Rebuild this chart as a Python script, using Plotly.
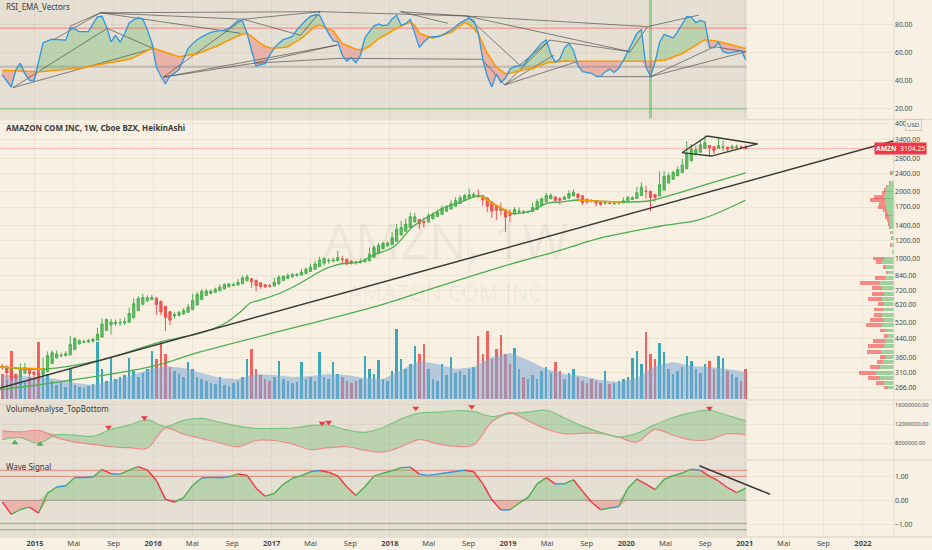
import numpy as np
import pandas as pd
import plotly.graph_objects as go

# -- AMZN weekly HeikinAshi, every second week --
dates = pd.date_range(end="2021-01-04", periods=165, freq="14D")

ha_open = [330, 328, 318, 304, 299, 308, 316, 311, 308, 304,
           313, 340, 360, 368, 369, 372, 393, 416, 423, 424,
           427, 432, 446, 478, 506, 513, 516, 517, 520, 544,
           586, 625, 648, 658, 664, 644, 611, 579, 555, 558,
           566, 576, 592, 621, 656, 685, 700, 708, 719, 732,
           748, 759, 762, 772, 796, 812, 800, 779, 764, 756,
           755, 770, 798, 816, 828, 838, 844, 857, 876, 896,
           921, 953, 976, 977, 980, 995, 994, 975, 966, 963,
           968, 977, 1012, 1066, 1106, 1138, 1156, 1196, 1275, 1326,
           1376, 1458, 1497, 1465, 1457, 1506, 1542, 1575, 1626, 1666,
           1711, 1763, 1816, 1864, 1896, 1915, 1908, 1867, 1790, 1710,
           1676, 1658, 1596, 1578, 1616, 1622, 1615, 1620, 1656, 1728,
           1789, 1851, 1884, 1853, 1838, 1860, 1906, 1942, 1908, 1843,
           1817, 1816, 1792, 1770, 1772, 1768, 1769, 1774, 1794, 1835,
           1854, 1912, 2000, 1999, 1936, 1906, 2023, 2176, 2262, 2344,
           2419, 2518, 2732, 2906, 2985, 3106, 3198, 3161, 3100, 3149,
           3152, 3117, 3140, 3148, 3146]
ha_close = [326, 309, 291, 294, 318, 325, 306, 304, 300, 322,
            368, 380, 375, 370, 376, 414, 439, 430, 426, 430,
            436, 460, 510, 534, 520, 520, 517, 522, 569, 629,
            664, 670, 668, 670, 623, 578, 547, 531, 562, 574,
            587, 608, 650, 691, 714, 716, 716, 730, 746, 765,
            770, 765, 783, 820, 829, 788, 758, 750, 749, 754,
            784, 826, 834, 840, 849, 849, 870, 896, 916, 946,
            985, 999, 978, 984, 1010, 994, 956, 956, 960, 972,
            986, 1046, 1120, 1146, 1170, 1174, 1237, 1354, 1376, 1425,
            1539, 1536, 1433, 1449, 1554, 1578, 1608, 1678, 1707, 1756,
            1815, 1868, 1912, 1928, 1934, 1902, 1826, 1714, 1629, 1642,
            1640, 1534, 1559, 1655, 1629, 1608, 1624, 1692, 1800, 1850,
            1913, 1916, 1822, 1822, 1882, 1952, 1977, 1875, 1778, 1791,
            1814, 1767, 1748, 1774, 1765, 1770, 1780, 1814, 1876, 1872,
            1970, 2087, 1998, 1874, 1876, 2140, 2330, 2348, 2426, 2494,
            2618, 2946, 3080, 3064, 3226, 3289, 3124, 3040, 3198, 3154,
            3082, 3162, 3156, 3144, 3104.25]
ha_high = [338, 334, 322, 306, 340, 342, 320, 316, 312, 362,
           385, 390, 388, 380, 386, 452, 446, 436, 434, 438,
           442, 490, 540, 540, 538, 535, 540, 545, 605, 664,
           680, 696, 685, 690, 675, 650, 615, 582, 575, 585,
           600, 628, 696, 710, 732, 731, 728, 742, 766, 776,
           780, 782, 810, 840, 848, 818, 804, 782, 770, 772,
           822, 842, 842, 860, 860, 862, 900, 910, 950, 975,
           1018, 1016, 1005, 1010, 1084, 1030, 998, 980, 980, 1000,
           1005, 1122, 1145, 1175, 1185, 1195, 1310, 1430, 1475, 1510,
           1605, 1600, 1505, 1530, 1600, 1610, 1650, 1725, 1730, 1830,
           1880, 1925, 1940, 2050, 1980, 2030, 1915, 1872, 1795, 1720,
           1780, 1665, 1660, 1700, 1690, 1640, 1640, 1780, 1845, 1875,
           1970, 1960, 1890, 1880, 1910, 2020, 2035, 1950, 1912, 1850,
           1840, 1822, 1797, 1800, 1790, 1805, 1810, 1880, 1905, 1900,
           2090, 2185, 2110, 2005, 1945, 2450, 2460, 2420, 2470, 2580,
           2790, 3345, 3250, 3200, 3380, 3550, 3205, 3170, 3500, 3370,
           3160, 3230, 3230, 3200, 3230]
ha_low = [318, 292, 285, 287, 296, 304, 297, 295, 285, 300,
          310, 338, 357, 362, 365, 368, 390, 414, 418, 420,
          422, 428, 444, 476, 458, 500, 500, 505, 516, 540,
          582, 620, 640, 652, 560, 560, 474, 505, 540, 550,
          560, 572, 588, 618, 652, 680, 692, 704, 715, 728,
          744, 752, 758, 768, 790, 740, 715, 735, 738, 742,
          750, 766, 795, 812, 824, 834, 840, 853, 872, 892,
          917, 930, 950, 960, 976, 955, 932, 940, 940, 950,
          962, 973, 1008, 1060, 1100, 1134, 1152, 1192, 1265, 1320,
          1370, 1450, 1352, 1380, 1450, 1500, 1536, 1570, 1620, 1660,
          1705, 1757, 1810, 1858, 1890, 1860, 1720, 1610, 1520, 1490,
          1560, 1310, 1450, 1572, 1580, 1580, 1590, 1615, 1650, 1722,
          1783, 1840, 1770, 1740, 1830, 1855, 1900, 1800, 1740, 1750,
          1780, 1710, 1720, 1740, 1745, 1735, 1740, 1770, 1790, 1825,
          1848, 1905, 1850, 1626, 1800, 1900, 2018, 2170, 2255, 2338,
          2412, 2510, 2725, 2900, 2978, 3100, 2870, 2930, 3092, 3020,
          3000, 3060, 3090, 3080, 3070]

# volume, millions of shares
volume = [25, 20, 48, 22, 28, 18, 22, 20, 57, 30,
          25, 18, 14, 16, 12, 30, 14, 12, 11, 13,
          15, 57, 30, 18, 42, 20, 22, 24, 41, 28,
          22, 26, 30, 48, 40, 57, 45, 32, 28, 25,
          22, 37, 30, 22, 20, 18, 16, 15, 22, 14,
          13, 16, 18, 22, 40, 50, 30, 24, 20, 18,
          22, 38, 20, 18, 16, 17, 37, 20, 22, 18,
          47, 22, 20, 37, 25, 22, 18, 16, 18, 20,
          43, 30, 25, 39, 20, 18, 28, 70, 40, 30,
          35, 53, 45, 55, 30, 20, 18, 35, 24, 42,
          26, 28, 24, 30, 32, 63, 45, 68, 40, 50,
          64, 45, 35, 51, 30, 22, 20, 24, 20, 28,
          32, 26, 37, 28, 20, 26, 30, 22, 18, 16,
          20, 18, 16, 28, 15, 16, 18, 20, 22, 41,
          48, 35, 67, 45, 40, 56, 47, 30, 25, 28,
          32, 43, 38, 30, 26, 35, 38, 30, 43, 41,
          28, 25, 22, 18, 30]

rsi = [44.1, 40, 35.5, 48, 52.5, 44.9, 40.4, 39.6, 52.5, 67.1,
       68.4, 69.6, 69.4, 69.2, 69, 78.2, 77, 75, 75, 75,
       80.6, 85.6, 86, 78.6, 67.8, 72.4, 67.5, 73.7, 81.2, 83.5,
       85, 84, 76.5, 67, 49.8, 43, 38, 43.4, 45.5, 48,
       55.5, 63, 66.5, 69.3, 71.3, 73, 74.6, 75.3, 75.7, 76.1,
       77.3, 80.3, 82.9, 82.5, 73.9, 61.6, 50.5, 51.5, 52.2, 58.3,
       63.5, 66.7, 69.3, 70.4, 71.6, 76.3, 80.2, 83.3, 86, 87.1,
       86.7, 79.6, 73.6, 68.5, 68, 58.2, 54, 56.6, 52.8, 58.1,
       70.7, 75.2, 79, 80.5, 79.4, 79.8, 84.1, 86.8, 79.6, 80.7,
       83.8, 73.8, 63.8, 67.7, 70.7, 71.4, 71.4, 72.4, 74, 76.1,
       78.7, 81.3, 83.1, 84.6, 83.1, 74.3, 55.3, 43.1, 35.6, 44.7,
       38.7, 41.7, 48.2, 50.2, 50.7, 51.3, 55.5, 59.6, 63.2, 67,
       69, 59.3, 53.1, 55.5, 63.3, 66.6, 61.8, 50.7, 46.5, 45.9,
       45.3, 43.2, 43.1, 46.3, 48.3, 45.9, 48.9, 54.3, 60.8, 67,
       73.8, 76.6, 49.7, 43.2, 53.1, 67.4, 73, 71.8, 70.6, 75.1,
       80.3, 85.9, 85.4, 81.5, 83, 82, 63.9, 63.5, 67.3, 60.7,
       59.8, 60, 60.8, 61.5, 55]
rsi_ema = [47.5, 47.3, 47.1, 47, 46.8, 46.7, 46.6, 46.5, 46.4, 46.6,
           46.9, 47.2, 47.5, 47.8, 48.1, 48.4, 48.6, 48.9, 49.4, 50.1,
           50.7, 51.3, 51.8, 52.1, 52.8, 53.4, 54.1, 54.8, 55.4, 56.5,
           58.1, 59.8, 61.5, 63.1, 62.4, 61.4, 60.3, 59.2, 58.2, 57.1,
           57.7, 58.2, 58.7, 59.3, 60.3, 61.6, 62.8, 64.1, 65.7, 67.4,
           69.1, 70.6, 72, 73.3, 74, 71.5, 68.9, 66.5, 64.6, 63.5,
           63.2, 63.5, 63.8, 64.1, 66.3, 68.2, 70.2, 73, 75.8, 78.7,
           79.7, 78.4, 77.2, 75.6, 71.1, 66.6, 65.2, 63.8, 62.4, 62.1,
           62.8, 64.6, 67.3, 70.1, 71.8, 73.4, 75.4, 77.4, 79.3, 80.6,
           81.8, 79.5, 73.9, 72.7, 71.5, 70.4, 71.6, 72.4, 73.2, 74.5,
           76.8, 79.2, 81.6, 80, 77.5, 73.4, 66.2, 59.6, 54.5, 49.7,
           47.4, 44.8, 45.4, 46.3, 47.1, 47.9, 48.4, 48.8, 50.2, 51.5,
           52.5, 53.3, 53.7, 53.8, 54, 53.9, 53.9, 53.8, 53.7, 53.7,
           53.6, 53.6, 53.6, 53.6, 53.6, 53.6, 53.6, 53.6, 53.6, 53.6,
           53.6, 53.6, 53.6, 53.9, 54.1, 54.4, 54.7, 55.7, 57, 58.3,
           59.4, 61.4, 63.6, 65.6, 67.4, 69.2, 69.1, 68.5, 68, 67.2,
           66.2, 65.6, 64.9, 63.9, 63]
rsi_levels = [77.5, 50, 20]
rsi_band_date = "2020-03-16"

# RSI vector pivots and the lines drawn between them
piv_dates = ["2014-10-25", "2015-02-26", "2015-04-20", "2015-07-22", "2015-08-12",
             "2016-01-01", "2016-02-01", "2016-10-05", "2016-11-05", "2017-03-31",
             "2017-05-31", "2017-08-01", "2017-07-23", "2018-02-03", "2018-06-29",
             "2018-08-26", "2019-02-06", "2018-12-22", "2019-05-23", "2019-05-10",
             "2019-08-02", "2019-09-27", "2020-03-16", "2020-03-07", "2020-01-13",
             "2020-08-13", "2020-09-29", "2021-01-04", "2018-10-12", "2016-09-26"]
piv_vals = [35, 69, 79, 88.5, 77.4, 63, 42.5, 83.9, 52.4, 72.4,
            89.3, 56, 65.5, 89.3, 81, 86.2, 51.2, 37, 58.4, 69,
            53.6, 42.9, 42.9, 78.6, 60.7, 86.9, 64.3, 60.7, 55.3, 73.9]
vec_pairs = [(1, 3), (2, 3), (3, 10), (3, 7), (3, 29), (4, 5), (0, 5), (0, 4),
             (6, 7), (6, 8), (6, 12), (8, 12), (8, 11), (7, 9), (9, 10), (7, 10),
             (10, 15), (13, 15), (13, 14), (11, 28), (28, 17), (15, 16), (15, 24),
             (15, 23), (17, 18), (17, 19), (17, 20), (16, 19), (19, 24), (21, 22),
             (22, 26), (22, 27), (23, 25), (24, 23), (26, 27)]

# moving averages on price
ma_fast_dates = ["2014-09-15", "2015-01-26", "2015-07-22", "2016-01-22", "2016-05-03",
                 "2016-07-04", "2016-08-17", "2016-09-26", "2016-10-27", "2016-11-27",
                 "2017-01-28", "2017-03-31", "2017-05-22", "2017-06-22", "2017-08-01",
                 "2017-10-02", "2017-11-12", "2018-01-12", "2018-03-15", "2018-04-28",
                 "2018-06-16", "2018-08-08", "2018-10-09", "2018-11-24", "2019-01-10",
                 "2019-03-03", "2019-05-04", "2019-06-13", "2019-08-05", "2019-09-24",
                 "2019-12-16", "2020-03-09", "2020-04-18", "2020-06-19", "2020-09-20",
                 "2021-01-04"]
ma_fast = [328, 321, 352, 424, 456, 485, 521, 577, 633, 653,
           702, 778, 862, 908, 946, 966, 1038, 1127, 1398, 1534,
           1683, 1789, 1903, 1735, 1598, 1615, 1771, 1789, 1827, 1808,
           1789, 1808, 1865, 1983, 2176, 2412]
ma_fast_below = [1, 1, 0, 0, 0, 0, 0, 0, 0, 0,
                 0, 0, 0, 0, 0, 0, 0, 0, 0, 0,
                 0, 0, 1, 1, 1, 0, 0, 0, 1, 1,
                 1, 0, 0, 0, 0, 0]
ma_slow_dates = ["2014-09-15", "2015-12-22", "2016-05-25", "2017-03-31", "2017-12-03",
                 "2018-04-28", "2018-11-18", "2019-06-13", "2019-10-15", "2020-04-18",
                 "2020-08-20", "2021-01-04"]
ma_slow = [259, 328, 383, 500, 620, 724, 898, 1092, 1236, 1398, 1502, 1827]

trend_dates = ["2014-09-15", "2022-04-07"]
trend_vals = [264, 3362]
diamond_dates = ["2020-06-21", "2020-09-07", "2021-02-10", "2020-09-20", "2020-06-21"]
diamond_vals = [2972, 3528, 3250, 2872, 2972]

# visible range volume profile
vp_price = [3450, 3270, 2960, 2740, 2420, 2180, 2110, 2040, 1970, 1900,
            1835, 1770, 1710, 1650, 1595, 1540, 1486, 1435, 1385, 1315,
            1245, 1160, 1080, 1006, 972, 920, 872, 825, 782, 740,
            701, 664, 629, 596, 564, 534, 506, 480, 454, 430,
            408, 386, 366, 347, 329, 311, 295, 279, 267]
vp_up = [1.3, 1, 1.5, 1, 2, 4, 7, 8, 9, 10,
         9, 9, 8, 7, 6, 5, 5, 4, 4, 3,
         2, 3, 2, 10, 12, 8, 6, 9, 14, 12,
         10, 12, 10, 11, 12, 10, 12, 8, 6, 9,
         10, 13, 8, 11, 14, 18, 14, 10, 6]
vp_dn = [0, 1, 0, 0.5, 2, 1, 1, 2, 3, 10,
         15, 6, 8, 4, 3, 4, 2, 2, 1, 1,
         1, 1, 0.5, 11, 6, 3, 2, 10, 20, 10,
         12, 14, 6, 9, 8, 14, 16, 6, 4, 12,
         16, 14, 6, 6, 10, 17, 12, 8, 4]

# VolumeAnalyse_TopBottom (millions), every 8 weeks
va_top = [8.8, 9.2, 8.0, 9.8, 9.7, 9.5, 10.9, 11.8, 12.9, 11.5,
          12.8, 13.2, 12.4, 11.6, 11.1, 11.1, 11.2, 11.7, 11.8, 10.8,
          10.3, 11.3, 13.1, 14.3, 14.5, 14.8, 14.6, 13.6, 14.2, 14.5,
          14.9, 13.3, 11.6, 10.3, 9.3, 10.1, 11.9, 13.4, 14.4, 14.9,
          13.8, 12.7]
va_bot = [10.6, 10.4, 10.7, 9.2, 8.3, 7.8, 7.3, 7.1, 7.0, 11.2,
          9.9, 9.0, 8.1, 7.3, 8.6, 8.6, 7.9, 6.7, 7.1, 7.3,
          6.6, 6.2, 7.3, 8.8, 7.9, 7.4, 7.7, 12.5, 14.4, 12.7,
          11.0, 10.0, 10.1, 10.1, 9.3, 8.3, 10.9, 9.7, 8.7, 8.8,
          10.0, 9.8]
vol_ma = [24, 23, 22, 20, 16, 14, 18, 23, 29, 33,
          31, 26, 21, 20, 25, 24, 22, 23, 25, 24,
          21, 20, 29, 38, 35, 30, 32, 42, 46, 39,
          30, 25, 23, 19, 17, 21, 33, 37, 33, 32,
          30, 27]
va_top_dates = ["2015-08-16", "2015-12-05", "2017-06-06", "2017-06-26",
                "2018-03-22", "2018-09-11", "2020-09-14"]
va_top_vals = [11.35, 13.35, 12.2, 12.4, 15.3, 15.65, 15.3]
va_bot_dates = ["2014-10-31", "2015-01-17"]
va_bot_vals = [8.15, 7.8]

# Wave Signal, every 4 weeks
wave = [-0.07, -0.58, -0.38, -0.28, -0.53, 0.3, 0.55, 0.6, 0.94, 0.94,
        0.96, 1.27, 1.1, 1.08, 1.25, 1.39, 1.25, 0.82, 0.05, -0.08,
        0.11, 0.62, 0.92, 0.95, 0.93, 0.97, 1.09, 1.03, 0.5, 0.17,
        0.28, 0.66, 0.91, 1.02, 1.18, 1.23, 1.16, 1.01, 0.56, 0.2,
        0.56, 1.0, 1.12, 1.22, 1.35, 1.37, 1.08, 1.03, 1.08, 1.14,
        1.19, 1.24, 1.18, 0.69, 0.02, -0.4, -0.39, -0.12, 0.12, 0.68,
        0.94, 0.68, 0.68, 0.85, 0.38, -0.08, -0.39, -0.32, -0.26, 0.5,
        0.88, 0.67, 0.44, 0.86, 1.02, 1.13, 1.29, 1.24, 1.0, 0.8,
        0.52, 0.32, 0.5]
wave_hi = [1.24, 0.99]
wave_lo = [-0.95, -1.21]
wave_trend_dates = ["2020-08-14", "2021-03-20"]
wave_trend_vals = [1.43, 0.25]

x_range = ["2014-09-15", "2022-04-07"]
va_dates = dates[::4]
wave_dates = dates[::2]
x_end = dates[-1] + pd.Timedelta(days=4)

GREEN = "#4caf50"
RED = "#ef5350"
BLUE = "#2f96e0"
ORANGE = "#ff9800"
BG = "#f8f1e3"
PANE = "#e6dfd3"
TXT = "#4a4a4a"
FONT = "Noto Sans"

fig = go.Figure()


def line(x, y, xa, ya, color, width=1.2, **kw):
    fig.add_trace(go.Scatter(x=x, y=y, mode="lines", xaxis=xa, yaxis=ya,
                             line=dict(color=color, width=width),
                             hoverinfo="skip", showlegend=False, **kw))


# ---------------- RSI pane ----------------
fig.add_trace(go.Bar(x=[rsi_band_date], y=[100], xaxis="x", yaxis="y4",
                     width=10 * 86400000, marker=dict(color="rgba(90,185,90,0.55)", line_width=0),
                     hoverinfo="skip", showlegend=False))
r = np.array(rsi)
e = np.array(rsi_ema)
line(dates, e, "x", "y4", "rgba(0,0,0,0)", 0)
line(dates, np.maximum(r, e), "x", "y4", "rgba(0,0,0,0)", 0,
     fill="tonexty", fillcolor="rgba(102,187,106,0.35)")
line(dates, e, "x", "y4", "rgba(0,0,0,0)", 0)
line(dates, np.minimum(r, e), "x", "y4", "rgba(0,0,0,0)", 0,
     fill="tonexty", fillcolor="rgba(239,83,80,0.32)")
for lv, col, w in zip(rsi_levels,
                      ["rgba(239,83,80,0.4)", "rgba(120,120,120,0.3)", "rgba(76,175,80,0.4)"],
                      [1.5, 2.5, 1.5]):
    line([x_range[0], x_end], [lv, lv], "x", "y4", col, w)
vx, vy = [], []
for a, b in vec_pairs:
    vx += [piv_dates[a], piv_dates[b], None]
    vy += [piv_vals[a], piv_vals[b], None]
line(vx, vy, "x", "y4", "rgba(60,60,60,0.6)", 1)
line(dates, rsi_ema, "x", "y4", ORANGE, 1.6)
line(dates, rsi, "x", "y4", BLUE, 1.3)

# ---------------- main pane ----------------
vol_col = ["rgba(38,160,180,0.9)" if c >= o else "rgba(239,83,80,0.9)"
           for o, c in zip(ha_open, ha_close)]
fig.add_trace(go.Bar(x=dates, y=volume, xaxis="x", yaxis="y2", width=14 * 86400000 * 0.55,
                     marker=dict(color=vol_col, line_width=0), hoverinfo="skip", showlegend=False))
line(va_dates, vol_ma, "x", "y2", "rgba(0,0,0,0)", 0, fill="tozeroy",
     fillcolor="rgba(128,168,215,0.55)")

vp_y = np.log10(vp_price)
fig.add_trace(go.Bar(x=vp_up, y=vp_y, orientation="h", xaxis="x2", yaxis="y6", width=0.017,
                     marker=dict(color="rgba(102,187,106,0.6)", line_width=0),
                     hoverinfo="skip", showlegend=False))
fig.add_trace(go.Bar(x=vp_dn, y=vp_y, orientation="h", xaxis="x2", yaxis="y6", width=0.017,
                     marker=dict(color="rgba(239,83,80,0.65)", line_width=0),
                     hoverinfo="skip", showlegend=False))

line([x_range[0], x_range[1]], [ha_close[-1], ha_close[-1]], "x", "y5", "rgba(239,83,80,0.35)", 1)
fig.add_trace(go.Candlestick(x=dates, open=ha_open, high=ha_high, low=ha_low, close=ha_close,
                             xaxis="x", yaxis="y5", whiskerwidth=0,
                             increasing=dict(line=dict(color="#4caf50", width=1), fillcolor="#66bb6a"),
                             decreasing=dict(line=dict(color="#ef5350", width=1), fillcolor="#ef5350"),
                             hoverinfo="skip", showlegend=False))
line(ma_slow_dates, ma_slow, "x", "y5", GREEN, 1.3, line_shape="spline")
line(ma_fast_dates, ma_fast, "x", "y5", GREEN, 1.3, line_shape="spline")
line(ma_fast_dates, [v if s else None for v, s in zip(ma_fast, ma_fast_below)], "x", "y5", ORANGE, 1.6,
     line_shape="spline")
line(trend_dates, trend_vals, "x", "y5", "#3a3a3a", 1.5)
line(diamond_dates, diamond_vals, "x", "y5", "#3a3a3a", 1.3)

# ---------------- VolumeAnalyse pane ----------------
t = np.array(va_top)
b_ = np.array(va_bot)
line(va_dates, t, "x", "y3", "rgba(0,0,0,0)", 0)
line(va_dates, np.maximum(t, b_), "x", "y3", "rgba(0,0,0,0)", 0,
     fill="tonexty", fillcolor="rgba(239,83,80,0.3)")
line(va_dates, b_, "x", "y3", "rgba(0,0,0,0)", 0)
line(va_dates, np.maximum(t, b_), "x", "y3", "rgba(0,0,0,0)", 0,
     fill="tonexty", fillcolor="rgba(102,187,106,0.35)")
line(va_dates, va_bot, "x", "y3", "#ef8a8a", 1.2, line_shape="spline")
line(va_dates, va_top, "x", "y3", "#7cc47f", 1.2, line_shape="spline")
fig.add_trace(go.Scatter(x=va_top_dates, y=va_top_vals, mode="markers", xaxis="x", yaxis="y3",
                         marker=dict(symbol="triangle-down", size=6, color="#f23645"),
                         hoverinfo="skip", showlegend=False))
fig.add_trace(go.Scatter(x=va_bot_dates, y=va_bot_vals, mode="markers", xaxis="x", yaxis="y3",
                         marker=dict(symbol="triangle-up", size=6, color=GREEN),
                         hoverinfo="skip", showlegend=False))

# ---------------- Wave Signal pane ----------------
for lv in wave_hi:
    line([x_range[0], x_end], [lv, lv], "x", "y", "rgba(239,83,80,0.5)", 1.3)
line([x_range[0], x_end], [0, 0], "x", "y", "rgba(120,120,120,0.45)", 1.3)
for lv in wave_lo:
    line([x_range[0], x_end], [lv, lv], "x", "y", "rgba(76,175,80,0.55)", 1.3)
w = np.array(wave)
line(wave_dates, np.maximum(w, 0), "x", "y", "rgba(0,0,0,0)", 0, fill="tozeroy",
     fillcolor="rgba(102,187,106,0.35)")
line(wave_dates, np.minimum(w, 0), "x", "y", "rgba(0,0,0,0)", 0, fill="tozeroy",
     fillcolor="rgba(239,83,80,0.3)")
segs = {GREEN: ([], []), "#f23645": ([], []), BLUE: ([], [])}
for k in range(len(wave) - 1):
    d = wave[k + 1] - wave[k]
    c = GREEN if d > 0.06 else ("#f23645" if d < -0.06 else BLUE)
    segs[c][0].extend([wave_dates[k], wave_dates[k + 1], None])
    segs[c][1].extend([wave[k], wave[k + 1], None])
for c, (sx, sy) in segs.items():
    line(sx, sy, "x", "y", c, 1.4)
line(wave_trend_dates, wave_trend_vals, "x", "y", "#3a3a3a", 1.5)

# ---------------- layout ----------------
tick_dates = pd.date_range("2015-01-01", "2022-01-01", freq="4MS")
tick_text = [f"<b>{d.year}</b>" if d.month == 1 else ("Mai" if d.month == 5 else "Sep")
             for d in tick_dates]
price_ticks = [266, 310, 360, 440, 520, 620, 720, 840, 1000, 1200, 1400, 1700, 2000, 2400, 2800, 3400, 4000]

grid = "rgba(140,120,80,0.09)"
tf = dict(family=FONT, size=6.8, color=TXT)


def yax(domain, rng, vals, text, **kw):
    d = dict(domain=domain, range=rng, side="right", anchor="x", tickvals=vals, ticktext=text,
             tickfont=tf, showgrid=True, gridcolor=grid, zeroline=False, ticks="",
             showline=False, automargin=False)
    d.update(kw)
    return d


shapes = []
for ya in ["y4", "y3", "y"]:
    shapes.append(dict(type="rect", xref="x", yref=ya + " domain", x0=x_range[0], x1=x_end,
                       y0=0, y1=1, fillcolor=PANE, line_width=0, layer="below"))
for py in [0.7775, 0.2551, 0.1434, 0.0]:
    shapes.append(dict(type="line", xref="paper", yref="paper", x0=0, x1=1.05, y0=py, y1=py,
                       line=dict(color="#e4dccd", width=1.5)))
shapes.append(dict(type="line", xref="paper", yref="paper", x0=1, x1=1, y0=0, y1=1,
                   line=dict(color="#e4dccd", width=1)))

ann = [
    dict(text="RSI_EMA_Vectors", x=0.004, y=0.987),
    dict(text="<b>AMAZON COM INC, 1W, Cboe BZX, HeikinAshi</b>", x=0.004, y=0.7635),
    dict(text="VolumeAnalyse_TopBottom", x=0.004, y=0.2393),
    dict(text="Wave Signal", x=0.004, y=0.1304),
]
annotations = [dict(a, xref="paper", yref="paper", xanchor="left", yanchor="middle", showarrow=False,
                    font=dict(family=FONT, size=8, color="#3c3c3c")) for a in ann]
annotations += [
    dict(text="AMZN, 1W", x=0.498, y=0.553, xref="paper", yref="paper", showarrow=False,
         xanchor="center", yanchor="middle",
         font=dict(family=FONT, size=50, color="rgba(0,0,0,0.045)")),
    dict(text="AMAZON COM INC", x=0.498, y=0.456, xref="paper", yref="paper", showarrow=False,
         xanchor="center", yanchor="middle",
         font=dict(family=FONT, size=22, color="rgba(0,0,0,0.045)")),
    dict(text="<b>AMZN</b>  3104.25", x=0.9776, y=np.log10(ha_close[-1]), xref="paper", yref="y5",
         xanchor="left", yanchor="middle", showarrow=False, bgcolor="#f23645", borderpad=1,
         font=dict(family=FONT, size=6.8, color="white")),
    dict(text="USD", x=1.0215, y=0.768, xref="paper", yref="paper", showarrow=False,
         xanchor="center", yanchor="middle",
         bgcolor=BG, bordercolor="#cfc7b8", borderwidth=1, borderpad=1,
         font=dict(family=FONT, size=6, color=TXT)),
]

fig.update_layout(
    width=932, height=550,
    margin=dict(l=0, r=38, t=0, b=13),
    paper_bgcolor=BG, plot_bgcolor=BG,
    barmode="stack", bargap=0,
    showlegend=False,
    xaxis=dict(type="date", range=x_range, anchor="y", tickvals=tick_dates, ticktext=tick_text,
               tickfont=dict(family=FONT, size=7.5, color=TXT), showgrid=True, gridcolor=grid,
               ticks="", zeroline=False, rangeslider=dict(visible=False), automargin=False),
    xaxis2=dict(overlaying="x", range=[894, 0], visible=False, anchor="y6"),
    yaxis=yax([0, 0.1415], [-1.517, 1.624], [-1, 0, 1], ["−1.00", "0.00", "1.00"]),
    yaxis2=dict(domain=[0.2570, 0.7756], range=[0, 278.5], visible=False, anchor="x"),
    yaxis3=yax([0.1453, 0.2533], [4.75, 16.83], [8, 12, 16],
               ["8000000.00", "12000000.00", "16000000.00"],
               tickfont=dict(family=FONT, size=5.6, color=TXT)),
    yaxis4=yax([0.7793, 1], [13.0, 97.64], [20, 40, 60, 80], ["20.00", "40.00", "60.00", "80.00"]),
    yaxis5=yax([0.2570, 0.7756], [2.3729, 3.6168], price_ticks, [f"{v}.00" for v in price_ticks],
               type="log", overlaying="y2"),
    yaxis6=dict(overlaying="y2", range=[2.3729, 3.6168], visible=False, anchor="x2"),
    shapes=shapes,
    annotations=annotations,
)

# page body has a default 8px margin; drop it so the chart sits at the window's corner
fig.write_html("out.html", config={"displayModeBar": False},
               post_script="document.body.style.margin='0';")
